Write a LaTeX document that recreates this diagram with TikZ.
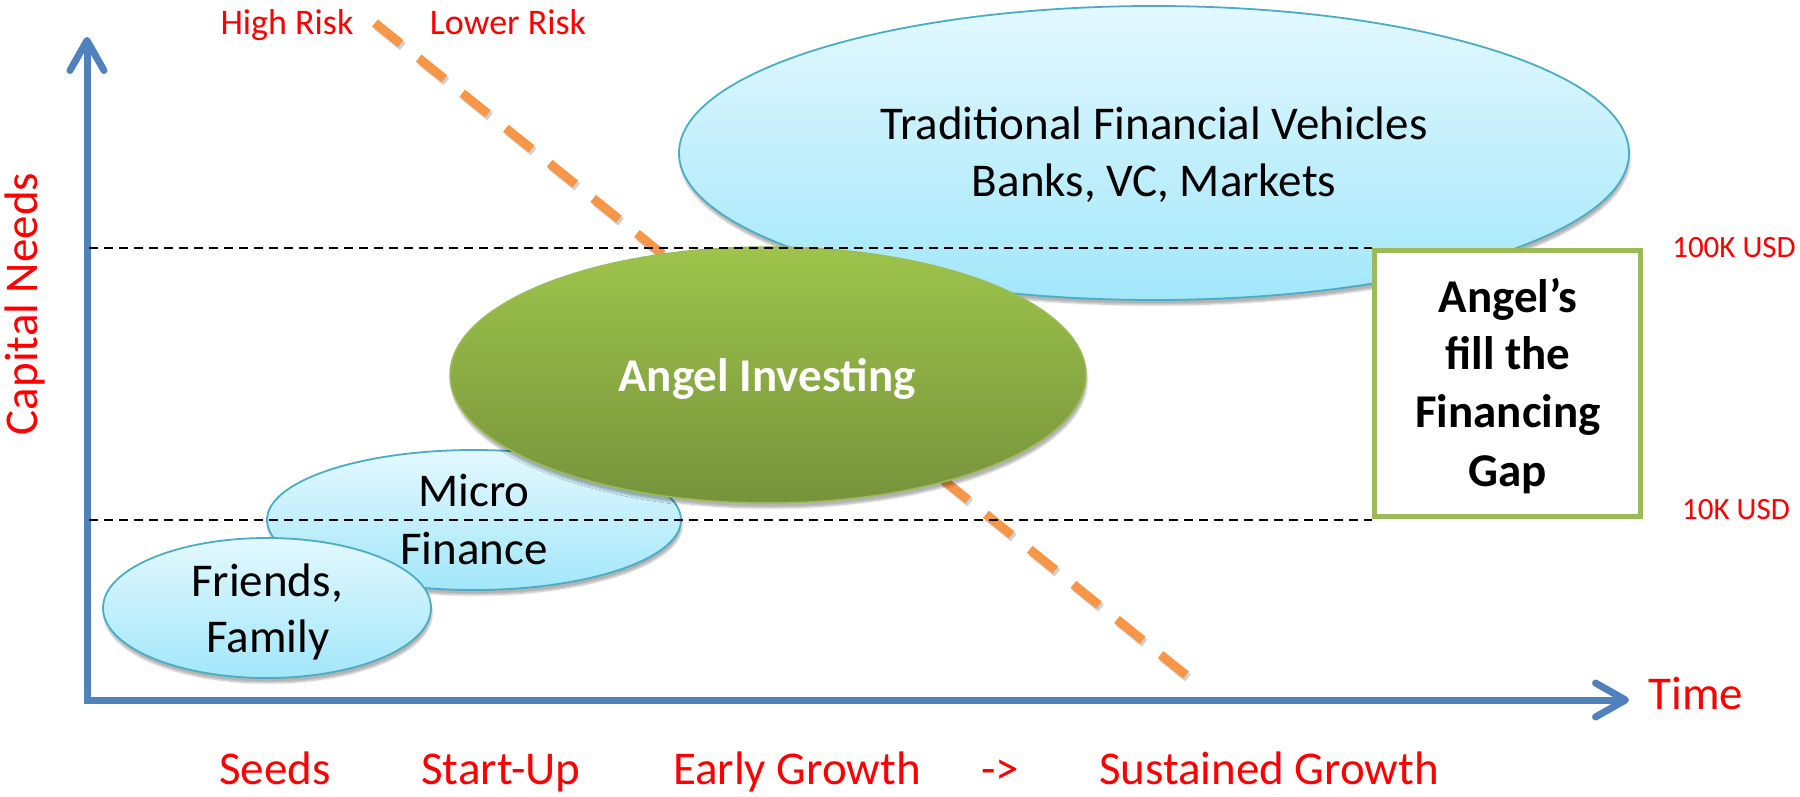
\documentclass[tikz,border=0pt]{standalone}
\usepackage{fontspec}
\setmainfont{Carlito}
\usetikzlibrary{arrows.meta,shapes.geometric,shadows.blur}
\definecolor{axisblue}{HTML}{4F81BD}
\definecolor{riskorange}{HTML}{F79646}
\definecolor{aquaedge}{HTML}{4BACC6}
\definecolor{aquatop}{HTML}{E3F8FE}
\definecolor{aquabot}{HTML}{A2E7FB}
\definecolor{greentop}{HTML}{9EC44B}
\definecolor{greenbot}{HTML}{76933B}
\definecolor{greenedge}{HTML}{9BBB59}
\definecolor{redtext}{HTML}{FF0000}
\begin{document}
\begin{tikzpicture}[x=1pt,y=1pt,
  axisline/.style={draw=axisblue, line width=7pt, line join=miter,
    {Straight Barb[length=30pt,width=34pt,round]}-{Straight Barb[length=30pt,width=34pt,round]}},
  aqua/.style={ellipse, inner sep=0pt, draw=aquaedge, line width=1.8pt,
    top color=aquatop, bottom color=aquabot,
    blur shadow={shadow xshift=1pt, shadow yshift=-5pt, shadow blur steps=6, shadow opacity=30}},
  greenoval/.style={ellipse, inner sep=0pt, draw=greenedge, line width=1.5pt,
    top color=greentop, bottom color=greenbot,
    blur shadow={shadow xshift=1pt, shadow yshift=-5pt, shadow blur steps=6, shadow opacity=30}},
  bigtxt/.style={inner sep=0pt, anchor=base, font=\fontsize{47}{58}\selectfont},
  redtxt/.style={bigtxt, text=redtext},
  smallred/.style={inner sep=0pt, anchor=base, text=redtext, font=\fontsize{36}{43}\selectfont},
  usdtxt/.style={inner sep=0pt, anchor=base, text=redtext, font=\fontsize{31}{37}\selectfont},
  boldtxt/.style={bigtxt, font=\fontsize{47}{58}\selectfont\bfseries},
  levelline/.style={draw=black, line width=1.8pt, dash pattern=on 9pt off 6pt},
  risk/.style={draw=riskorange, line width=9pt, dash pattern=on 33pt off 23pt}
]
\useasboundingbox (0,0) rectangle (1800,796);

% axes
\coordinate (ytop) at (87,759);
\coordinate (origin) at (87,96);
\coordinate (xend) at (1629,96);
\draw[axisline] (ytop) -- (origin) -- (xend);

% ovals
\node[aqua, minimum width=950pt, minimum height=294pt] (trad) at (1154,643) {};
\node[aqua, minimum width=414pt, minimum height=140pt] (micro) at (474,276) {};
\node[aqua, minimum width=328pt, minimum height=140pt] (friends) at (267,188) {};

% risk line
\coordinate (riskA) at (375,773);
\coordinate (riskB) at (1186,121);
\draw[risk, draw=black, opacity=0.18, transform canvas={shift={(2pt,-3pt)}}] (riskA) -- (riskB);
\draw[risk] (riskA) -- (riskB);

\node[greenoval, minimum width=636pt, minimum height=256pt] (angel) at (768,421) {};

% gap box
\node[draw=greenedge, line width=5pt, fill=white, minimum width=266pt, minimum height=266pt, inner sep=0pt] (gapbox) at (1507.5,412.5) {};

% level lines
\coordinate (l100) at (89,548);
\coordinate (l10) at (89,276);
\draw[levelline] (l100) -- (l100 -| gapbox.west);
\draw[levelline] (l10) -- (l10 -| gapbox.west);

% texts in ovals
\node[bigtxt] (tradA) at (1154,656) {Traditional Financial Vehicles};
\node[bigtxt] (tradB) at (1154,599) {Banks, VC, Markets};
\node[boldtxt, text=white] (angeltxt) at (767,404) {Angel Investing};
\node[bigtxt] (microA) at (474,289) {Micro};
\node[bigtxt] (microB) at (474,231) {Finance};
\node[bigtxt] (friendsA) at (267,199) {Friends,};
\node[bigtxt] (friendsB) at (268,143) {Family};

% box text
\node[boldtxt] (gapA) at (1508,483) {Angel’s};
\node[boldtxt] (gapB) at (1508,426) {fill the};
\node[boldtxt] (gapC) at (1508,368) {Financing};
\node[boldtxt] (gapD) at (1508,309) {Gap};

% level labels
\node[usdtxt] (k100) at (1734,538) {100K USD};
\node[usdtxt] (k10) at (1736,276) {10K USD};

% risk labels
\node[smallred] (hrisk) at (287,761) {High Risk};
\node[smallred] (lrisk) at (508,761) {Lower Risk};

% axis labels
\node[redtxt] (timelbl) at (1696,87) {Time};
\node[redtxt, rotate=90] (caplbl) at (38,492) {Capital Needs};

% stages
\node[redtxt] (seeds) at (275,12) {Seeds};
\node[redtxt] (startup) at (501,12) {Start-Up};
\node[redtxt] (early) at (797,12) {Early Growth};
\node[redtxt] (arrowtxt) at (1000,12) {->};
\node[redtxt] (sustained) at (1269,12) {Sustained Growth};
\end{tikzpicture}
\end{document}
